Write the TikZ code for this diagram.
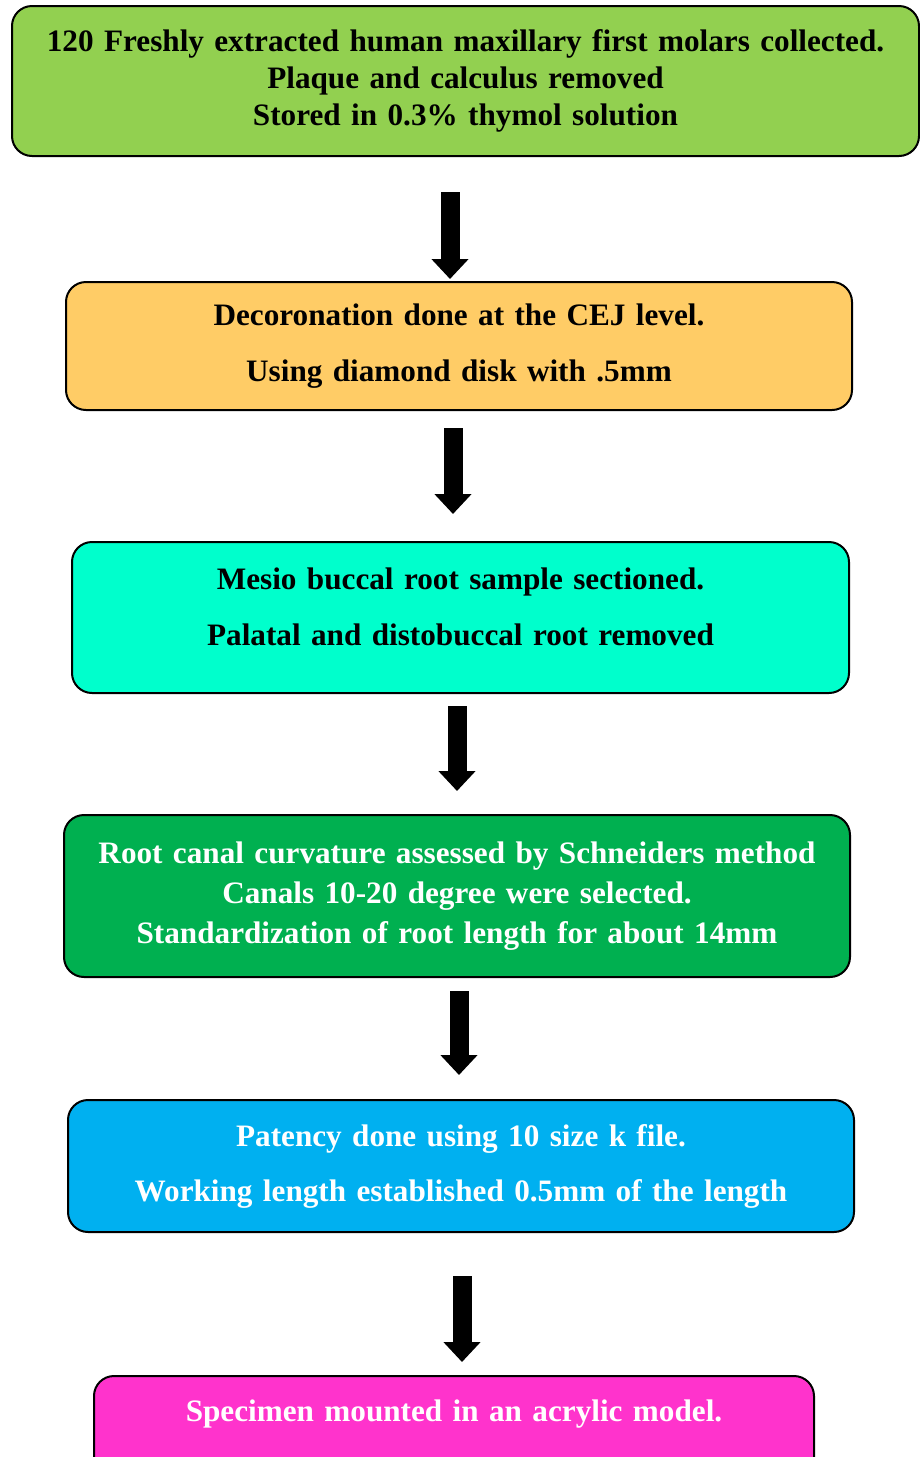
\documentclass[tikz,border=0pt]{standalone}
\usepackage{fontspec}
\setmainfont{Liberation Serif}
\usetikzlibrary{arrows.meta,positioning}
\definecolor{lg}{RGB}{146,208,80}
\definecolor{lo}{RGB}{255,204,102}
\definecolor{lc}{RGB}{0,255,204}
\definecolor{dg}{RGB}{0,176,80}
\definecolor{lb}{RGB}{0,176,240}
\definecolor{pk}{RGB}{255,51,204}
\tikzset{
  box/.style={rectangle,rounded corners=10pt,draw=black,line width=1pt,
    align=center,inner xsep=0pt,font=\bfseries\fontsize{15.6}{18.5}\selectfont},
  gb/.style={box,fill=lg,text width=#1},
  gb/.default=453.5pt,
  ob/.style={box,fill=lo,text width=#1},
  ob/.default=393pt,
  cb/.style={box,fill=lc,text width=#1},
  cb/.default=388.5pt,
  db/.style={box,fill=dg,text=white,text width=#1},
  db/.default=393pt,
  bb/.style={box,fill=lb,text=white,text width=#1},
  bb/.default=393pt,
  pb/.style={box,fill=pk,text=white,text width=#1},
  pb/.default=360pt,
  arr/.style={-{Triangle[length=10pt,width=18pt]},line width=9.5pt,draw=black},
}
\begin{document}
\begin{tikzpicture}[x=0.5pt,y=-0.5pt]
  \useasboundingbox (0,0) rectangle (920,1457);
  \node[gb,minimum height=75pt] (teeth) at (465.5,81) {120 Freshly extracted human maxillary first molars collected.\\ Plaque and calculus removed\\ Stored in 0.3\% thymol solution};
  \node[ob,minimum height=64pt] (decor) at (459,346) {Decoronation done at the CEJ level.\\[9.5pt] Using diamond disk with .5mm};
  \node[cb,minimum height=75.5pt,text depth=38.5pt] (sect) at (460.5,617.5) {Mesio buccal root sample sectioned.\\[9.5pt] Palatal and distobuccal root removed};
  \node[db,minimum height=81pt] (curv) at (457,896) {Root canal curvature assessed by Schneiders method\\[1.5pt] Canals 10-20 degree were selected.\\[1.5pt] Standardization of root length for about 14mm};
  \node[bb,minimum height=66pt] (pat) at (461,1166) {Patency done using 10 size k file.\\[9pt] Working length established 0.5mm of the length};
  \node[pb,anchor=north,inner ysep=11.5pt,text height=11pt,text depth=45pt] (mount) at (454,1375) {Specimen mounted in an acrylic model.};
  % block arrows between stages
  \draw[arr] ([xshift=-7.75pt,yshift=-17.5pt]teeth.south) -- ([xshift=-4.5pt,yshift=1pt]decor.north);
  \draw[arr] ([xshift=-3pt,yshift=-8.5pt]decor.south) -- ([xshift=-3.75pt,yshift=13.5pt]sect.north);
  \draw[arr] ([xshift=-1.75pt,yshift=-6pt]sect.south) -- ([yshift=11.5pt]curv.north);
  \draw[arr] ([xshift=1pt,yshift=-6.5pt]curv.south) -- ([xshift=-1pt,yshift=12pt]pat.north);
  \draw[arr] ([xshift=0.5pt,yshift=-21.5pt]pat.south) -- ([xshift=4pt,yshift=6.5pt]mount.north);
\end{tikzpicture}
\end{document}
